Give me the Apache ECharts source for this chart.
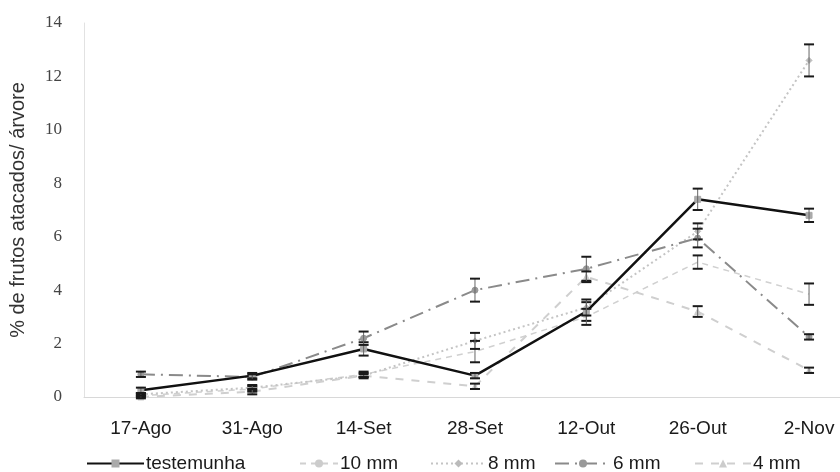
<!DOCTYPE html>
<html>
<head>
<meta charset="utf-8">
<script src="https://cdn.jsdelivr.net/npm/echarts@6/dist/echarts.min.js"></script>
<style>
  html, body { margin: 0; padding: 0; background: #fff; }
  #chart { width: 840px; height: 472px; }
</style>
</head>
<body>
<div id="chart"></div>
<script>
// Sampling dates
const categories = ['17-Ago', '31-Ago', '14-Set', '28-Set', '12-Out', '26-Out', '2-Nov'];

// % de frutos atacados por árvore, per treatment
const testemunha = [0.25, 0.8, 1.8, 0.8, 3.2, 7.4, 6.8];
const mm10 = [0.05, 0.3, 0.85, 1.7, 3.0, 5.05, 3.85];
const mm8 = [0.1, 0.35, 0.8, 2.1, 3.35, 6.2, 12.6];
const mm6 = [0.85, 0.75, 2.2, 4.0, 4.8, 5.95, 2.25];
const mm4 = [0.0, 0.2, 0.8, 0.4, 4.5, 3.2, 1.0];

// Half-widths of the error bars
const errTestemunha = [0.1, 0.1, 0.25, 0.1, 0.35, 0.4, 0.25];
const errMm10 = [0.05, 0.1, 0.1, 0.4, 0.3, 0.25, 0.4];
const errMm8 = [0.05, 0.1, 0.1, 0.3, 0.3, 0.3, 0.6];
const errMm6 = [0.1, 0.1, 0.25, 0.43, 0.45, 0.35, 0.1];
const errMm4 = [0.05, 0.1, 0.05, 0.1, 0.2, 0.2, 0.1];

const yTicks = [0, 2, 4, 6, 8, 10, 12, 14];

const pts = arr => arr.map((v, i) => [i, v]);
const bars = (arr, err) => arr.map((v, i) => [i, v - err[i], v + err[i]]);

function errorBarSeries(name, arr, err) {
  return {
    type: 'custom',
    name: name,
    z: 5,
    silent: true,
    data: bars(arr, err),
    renderItem: function (params, api) {
      const x = api.value(0);
      const lo = api.coord([x, api.value(1)]);
      const hi = api.coord([x, api.value(2)]);
      const w = 5;
      const style = { stroke: '#1a1a1a', lineWidth: 2 };
      return {
        type: 'group',
        children: [
          { type: 'line', shape: { x1: lo[0], y1: lo[1], x2: hi[0], y2: hi[1] }, style: { stroke: '#666', lineWidth: 1 } },
          { type: 'line', shape: { x1: lo[0] - w, y1: lo[1], x2: lo[0] + w, y2: lo[1] }, style: style },
          { type: 'line', shape: { x1: hi[0] - w, y1: hi[1], x2: hi[0] + w, y2: hi[1] }, style: style }
        ]
      };
    }
  };
}

function lineSeries(name, arr, color, width, dash, symbol, symbolColor, z) {
  return {
    type: 'line',
    name: name,
    data: pts(arr),
    z: z,
    symbol: symbol,
    symbolSize: 6,
    showSymbol: true,
    lineStyle: { color: color, width: width, type: dash },
    itemStyle: { color: symbolColor, borderColor: symbolColor },
    emphasis: { disabled: true }
  };
}

// One legend block per treatment, laid out along the bottom row
function legendItem(name, left, iconWidth) {
  return {
    left: left,
    top: 454,
    itemWidth: iconWidth,
    itemHeight: 10,
    padding: 0,
    itemGap: 0,
    data: [name],
    textStyle: { fontFamily: 'Liberation Sans', fontSize: 19, color: '#1a1a1a', padding: [0, 0, 0, -3] }
  };
}

const chart = echarts.init(document.getElementById('chart'), null, { renderer: 'canvas' });

chart.setOption({
  animation: false,
  backgroundColor: '#fff',
  grid: { left: 83, right: 0, top: 23, bottom: 75 },
  legend: [
    legendItem('testemunha', 86, 57),
    legendItem('10 mm', 299, 38),
    legendItem('8 mm', 430, 55),
    legendItem('6 mm', 554, 56),
    legendItem('4 mm', 694, 56)
  ],
  xAxis: {
    type: 'value',
    min: -0.511,
    max: 6.278,
    splitLine: { show: false },
    axisLine: { show: true, onZero: false, lineStyle: { color: '#d8d8d8', width: 1 } },
    axisTick: { show: false },
    axisLabel: {
      customValues: categories.map((c, i) => i),
      formatter: v => categories[Math.round(v)],
      margin: 22,
      fontFamily: 'Liberation Sans',
      fontSize: 19,
      color: '#1a1a1a'
    }
  },
  yAxis: {
    type: 'value',
    min: 0,
    max: 14,
    interval: 2,
    name: '% de frutos atacados/ árvore',
    nameLocation: 'middle',
    nameGap: 48,
    nameTextStyle: { fontFamily: 'Liberation Sans', fontSize: 20, color: '#333', padding: [0, 0, 8, 0] },
    splitLine: { show: false },
    axisLine: { show: true, onZero: false, lineStyle: { color: '#e2e2e2', width: 1 } },
    axisTick: { show: false },
    axisLabel: {
      margin: 22,
      fontFamily: 'Liberation Serif',
      fontSize: 17,
      color: '#444',
      formatter: v => (yTicks.indexOf(v) >= 0 ? String(v) : '')
    }
  },
  series: [
    lineSeries('testemunha', testemunha, '#111', 2.5, 'solid', 'rect', '#aaa', 4),
    lineSeries('10 mm', mm10, '#d0d0d0', 1.5, [6, 5], 'none', '#ccc', 2),
    lineSeries('8 mm', mm8, '#c4c4c4', 2, [2, 3], 'diamond', '#bbb', 2),
    lineSeries('6 mm', mm6, '#8a8a8a', 2, [14, 6, 2, 6], 'circle', '#999', 3),
    lineSeries('4 mm', mm4, '#cfcfcf', 2, [8, 8], 'triangle', '#ccc', 2),
    errorBarSeries('eb-t', testemunha, errTestemunha),
    errorBarSeries('eb-10', mm10, errMm10),
    errorBarSeries('eb-8', mm8, errMm8),
    errorBarSeries('eb-6', mm6, errMm6),
    errorBarSeries('eb-4', mm4, errMm4)
  ]
});
</script>
</body>
</html>
